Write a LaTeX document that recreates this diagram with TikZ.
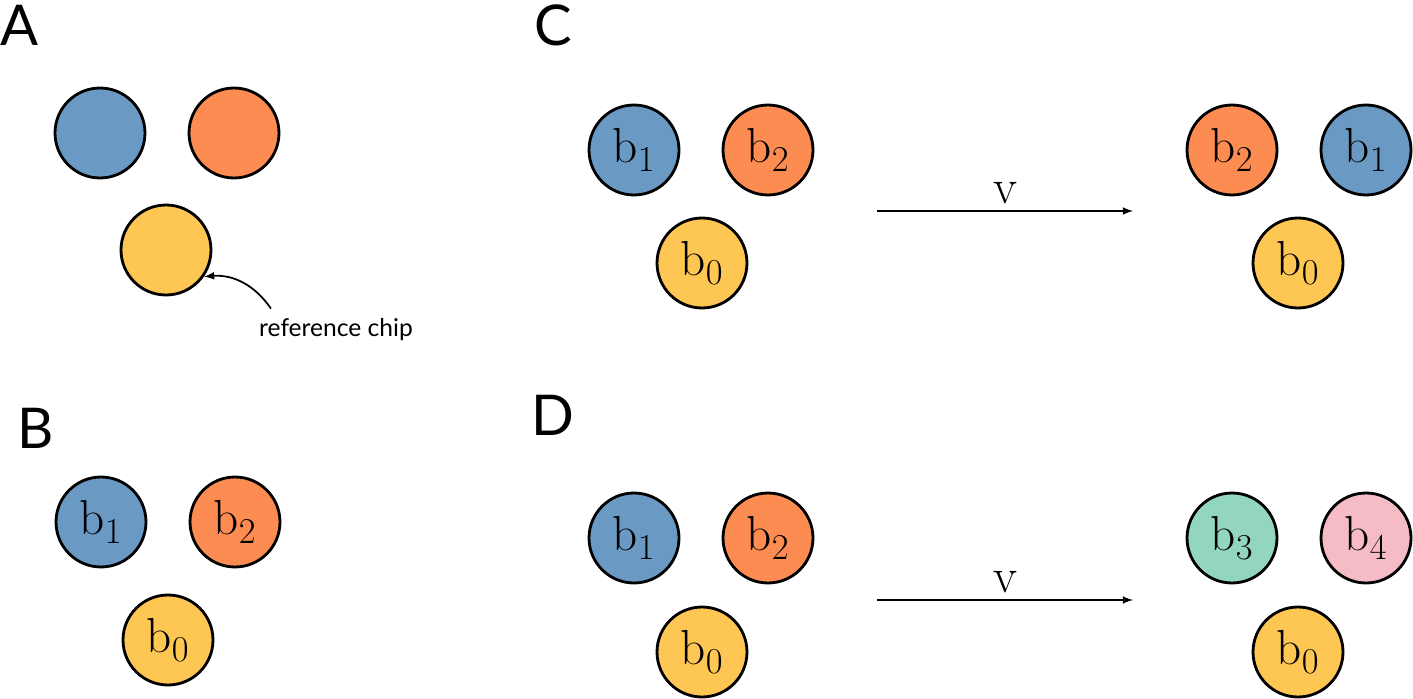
\documentclass[tikz,border=0pt]{standalone}
\usepackage{fontspec}
\setsansfont{Lato}
\usetikzlibrary{positioning}
\definecolor{chipblue}{HTML}{6A9AC4}
\definecolor{chiporange}{HTML}{FD8C52}
\definecolor{chipyellow}{HTML}{FEC754}
\definecolor{chipgreen}{HTML}{93D6C0}
\definecolor{chippink}{HTML}{F5BCC6}
\tikzstyle{chip} = [circle, draw, line width=1.6pt, minimum size=1.8cm, inner sep=0pt, font=\fontsize{28}{30}\selectfont]
\tikzstyle{panel} = [font=\sffamily\fontsize{32}{34}\selectfont, inner sep=0pt]
\tikzstyle{arrow} = [draw, line width=1pt, -latex]

\begin{document}
\begin{tikzpicture}[x=0.02cm, y=-0.02cm]
    \useasboundingbox (0,0) rectangle (1413,699);
    % panel A
    \node[panel] (labA) at (20,25) {A};
    \node[chip, fill=chipblue] (aBlue) at (100,133) {};
    \node[chip, fill=chiporange] (aOrange) at (234,133) {};
    \node[chip, fill=chipyellow] (aYellow) at (166,250) {};
    \node[font=\sffamily\fontsize{14}{16}\selectfont] (refText) at (336,330) {reference chip};
    \draw [line width=1pt, -latex] (refText.north west) ++(18,-4) coordinate (refStart) to[bend right=30] (aYellow.-35);

    % panel B
    \node[panel] (labB) at (36,428) {B};
    \node[chip, fill=chipblue] (bOne) at (101,522) {b$_1$};
    \node[chip, fill=chiporange] (bTwo) at (235,522) {b$_2$};
    \node[chip, fill=chipyellow] (bZero) at (168,640) {b$_0$};

    % panel C
    \node[panel] (labC) at (553,25) {C};
    \node[chip, fill=chipblue] (cOne) at (634,150) {b$_1$};
    \node[chip, fill=chiporange] (cTwo) at (768,150) {b$_2$};
    \node[chip, fill=chipyellow] (cZero) at (702,263) {b$_0$};
    \node[chip, fill=chiporange] (cTwoR) at (1232,150) {b$_2$};
    \node[chip, fill=chipblue] (cOneR) at (1366,150) {b$_1$};
    \node[chip, fill=chipyellow] (cZeroR) at (1298,263) {b$_0$};
    \coordinate (cFrom) at (877,211);
    \coordinate (cTo) at (1133,211);
    \draw [arrow] (cFrom) -- node[above, font=\fontsize{28}{30}\selectfont] (cV) {v} (cTo);

    % panel D
    \node[panel] (labD) at (553,415) {D};
    \node[chip, fill=chipblue] (dOne) at (634,538) {b$_1$};
    \node[chip, fill=chiporange] (dTwo) at (768,538) {b$_2$};
    \node[chip, fill=chipyellow] (dZero) at (702,652) {b$_0$};
    \node[chip, fill=chipgreen] (dThree) at (1232,538) {b$_3$};
    \node[chip, fill=chippink] (dFour) at (1366,538) {b$_4$};
    \node[chip, fill=chipyellow] (dZeroR) at (1298,652) {b$_0$};
    \coordinate (dFrom) at (877,600);
    \coordinate (dTo) at (1133,600);
    \draw [arrow] (dFrom) -- node[above, font=\fontsize{28}{30}\selectfont] (dV) {v} (dTo);
\end{tikzpicture}
\end{document}
